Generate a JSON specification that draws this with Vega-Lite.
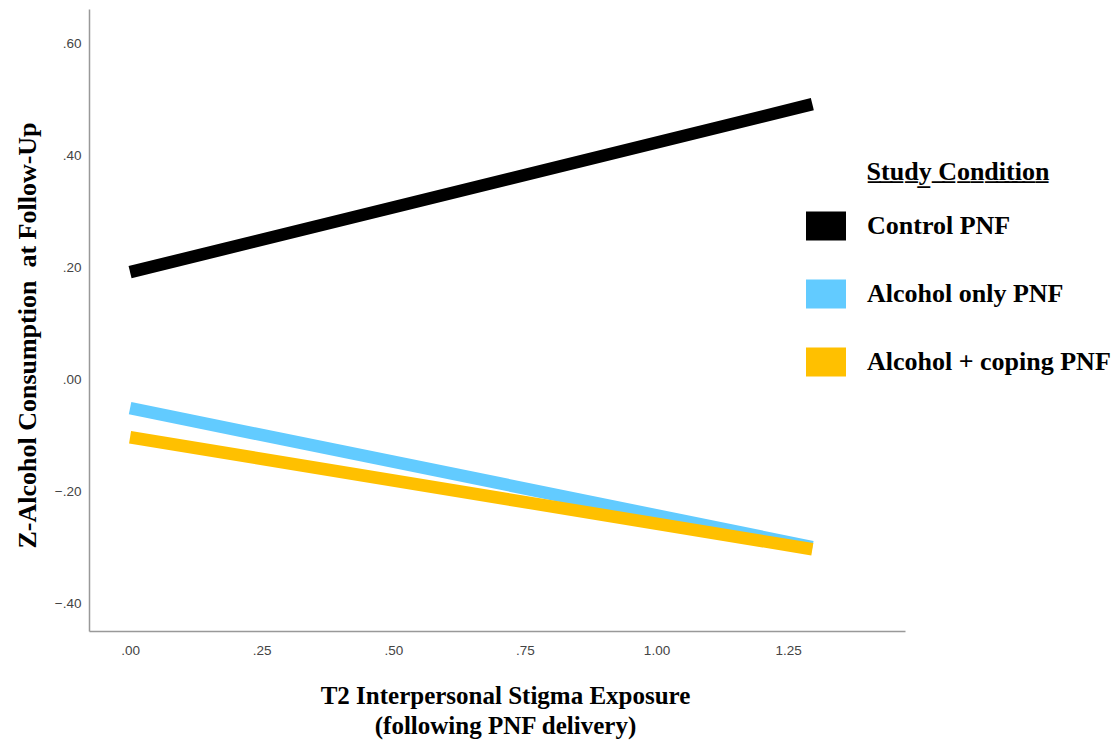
{
  "$schema": "https://vega.github.io/schema/vega-lite/v6.json",
  "autosize": {"type": "none"},
  "padding": {"left": 89, "top": 9, "right": 212, "bottom": 111},
  "width": 816,
  "height": 622,
  "background": "white",
  "config": {"view": {"stroke": null}},
  "data": {
    "values": [
      {"condition": "Control PNF", "exposure": 0, "z": 0.191},
      {"condition": "Control PNF", "exposure": 1.296, "z": 0.491},
      {"condition": "Alcohol only PNF", "exposure": 0, "z": -0.052},
      {"condition": "Alcohol only PNF", "exposure": 1.296, "z": -0.3},
      {"condition": "Alcohol + coping PNF", "exposure": 0, "z": -0.104},
      {"condition": "Alcohol + coping PNF", "exposure": 1.296, "z": -0.304}
    ]
  },
  "mark": {"type": "line", "strokeWidth": 12.5, "strokeCap": "butt"},
  "encoding": {
    "x": {
      "field": "exposure", "type": "quantitative",
      "scale": {"domain": [-0.078, 1.472], "nice": false, "zero": false},
      "axis": {
        "values": [0, 0.25, 0.5, 0.75, 1.0, 1.25],
        "labelExpr": "replace(format(datum.value, '.2f'), '0.', '.')",
        "grid": false, "ticks": false,
        "domainColor": "#999999", "domainWidth": 1.5,
        "labelFont": "Liberation Sans Narrow, Liberation Sans", "labelFontSize": 13.5, "labelColor": "#444444",
        "labelPadding": 12,
        "title": ["T2 Interpersonal Stigma Exposure", "(following PNF delivery)"],
        "titleFont": "Liberation Serif", "titleFontSize": 25, "titleFontWeight": "bold", "titleColor": "#000000",
        "titleLineHeight": 30, "titleBaseline": "top", "titleY": 52, "titleX": 416, "titleAlign": "center"
      }
    },
    "y": {
      "field": "z", "type": "quantitative",
      "scale": {"domain": [-0.45, 0.661], "nice": false, "zero": false},
      "axis": {
        "values": [-0.4, -0.2, 0, 0.2, 0.4, 0.6],
        "labelExpr": "replace(format(datum.value, '.2f'), '0.', '.')",
        "grid": false, "ticks": false,
        "domainColor": "#999999", "domainWidth": 1.5,
        "labelFont": "Liberation Sans Narrow, Liberation Sans", "labelFontSize": 13.5, "labelColor": "#444444",
        "labelPadding": 8,
        "title": "Z-Alcohol Consumption \u00a0at Follow-Up",
        "titleFont": "Liberation Serif", "titleFontSize": 26, "titleFontWeight": "bold", "titleColor": "#000000",
        "titleAngle": -90, "titleBaseline": "middle", "titleAlign": "center", "titleX": -62, "titleY": 326
      }
    },
    "color": {
      "field": "condition", "type": "nominal",
      "scale": {
        "domain": ["Control PNF", "Alcohol only PNF", "Alcohol + coping PNF"],
        "range": ["#000000", "#62CBFF", "#FFC000"]
      },
      "legend": {
        "orient": "none", "legendX": 717, "legendY": 150,
        "title": "S̲t̲u̲d̲y̲ ̲C̲o̲n̲d̲i̲t̲i̲o̲n̲",
        "titleFont": "Liberation Serif", "titleFontSize": 26, "titleFontWeight": "bold", "titleColor": "#000000",
        "titleAnchor": "middle", "titlePadding": 21, "titleLimit": 500,
        "labelFont": "Liberation Serif", "labelFontSize": 26, "labelFontWeight": "bold", "labelColor": "#000000",
        "labelOffset": 21, "labelLimit": 400,
        "symbolType": "M-1,-0.72H1V0.72H-1Z", "symbolSize": 1600, "symbolStrokeWidth": 0,
        "rowPadding": 33,
        "encode": {"symbols": {"update": {"fill": {"scale": "color", "field": "value"}, "opacity": {"value": 1}}}}
      }
    }
  }
}
